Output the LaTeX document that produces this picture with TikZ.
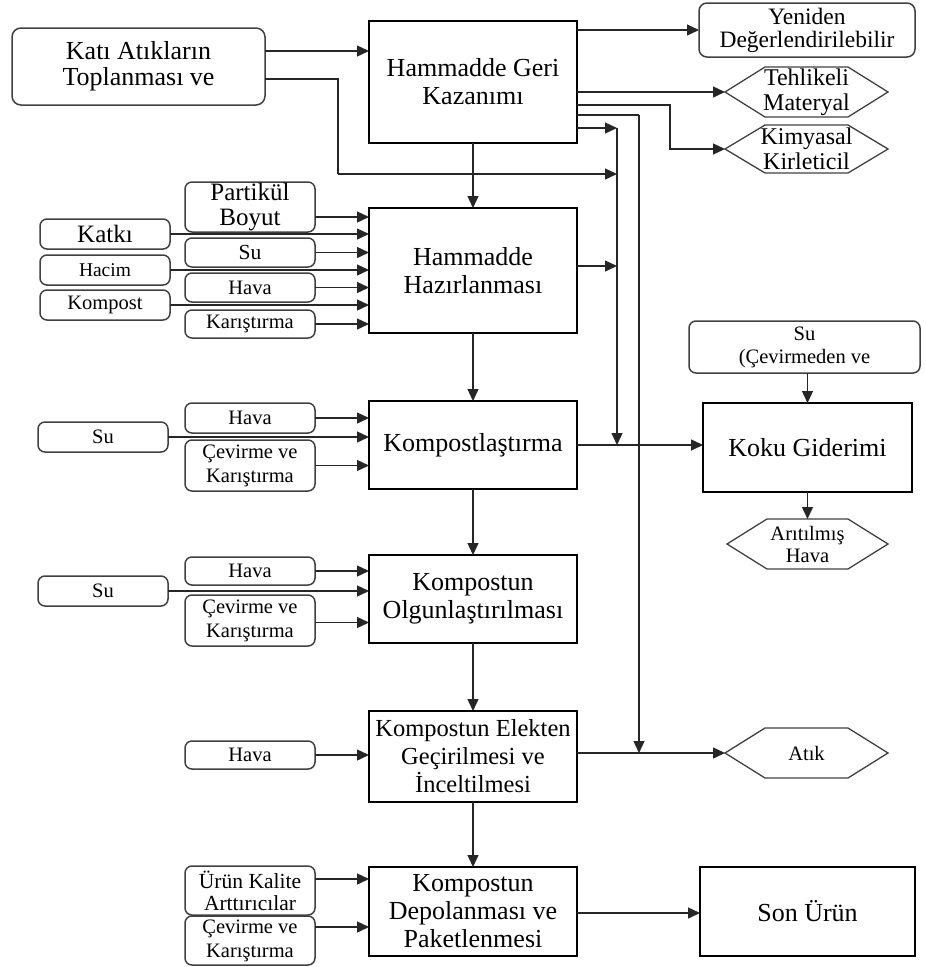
\documentclass[tikz,border=0pt]{standalone}
\usepackage{fontspec}
\setmainfont{Liberation Serif}
\usetikzlibrary{arrows.meta}
\newcommand{\fsz}[2]{\fontsize{#1}{#2}\selectfont}
\newcommand{\hexo}[1]{\draw[hexl] (#1.west) -- ([xshift=40pt]#1.north west) -- ([xshift=-40pt]#1.north east) -- (#1.east) -- ([xshift=-40pt]#1.south east) -- ([xshift=40pt]#1.south west) -- cycle;}
\begin{document}
\begin{tikzpicture}[x=1pt,y=-1pt,
  mainbox/.style={draw=black, line width=1.8pt, inner sep=0pt, outer sep=0pt, align=center, font=\fsz{26}{28}},
  rbox/.style={draw=black!75, line width=1.5pt, rounded corners=7pt, inner sep=0pt, outer sep=0pt, align=center, font=\fsz{20.5}{24}},
  hexn/.style={inner sep=0pt, outer sep=0pt, align=center, font=\fsz{24}{25}},
  hexl/.style={draw=black!75, line width=1.3pt},
  arr/.style={-{Triangle[length=12pt,width=11pt]}, line width=1.4pt, draw=black!85},
  ln/.style={line width=1.4pt, draw=black!85}]
\useasboundingbox (0,0) rectangle (926,967);
% main column
\node[mainbox, minimum width=208pt, minimum height=122pt] (hgk) at (473,82) {Hammadde Geri\\Kazanımı};
\node[mainbox, minimum width=208pt, minimum height=125pt] (hh) at (473,270.5) {Hammadde\\Hazırlanması};
\node[mainbox, minimum width=208pt, minimum height=88pt] (kmp) at (473,445) {Kompostlaştırma};
\node[mainbox, minimum width=208pt, minimum height=88pt] (olg) at (473,599) {Kompostun\\Olgunlaştırılması};
\node[mainbox, font=\fsz{24.5}{28}, minimum width=208pt, minimum height=91pt] (elk) at (473,756.5) {Kompostun Elekten\\Geçirilmesi ve\\İnceltilmesi};
\node[mainbox, minimum width=208pt, minimum height=89pt] (dep) at (473,911.5) {Kompostun\\Depolanması ve\\Paketlenmesi};
\node[mainbox, minimum width=215pt, minimum height=89pt] (son) at (807.5,911.5) {Son Ürün};
\node[mainbox, minimum width=209pt, minimum height=89pt] (koku) at (807.5,447.5) {Koku Giderimi};
% top
\node[rbox, rounded corners=9pt, font=\fsz{26}{26}, minimum width=253pt, minimum height=77pt] (kati) at (138.5,66.5) {Katı Atıkların\\Toplanması ve};
\node[rbox, rounded corners=8pt, font=\fsz{23.5}{23}, minimum width=216pt, minimum height=54pt] (yen) at (807,30) {Yeniden\\Değerlendirilebilir};
\node[hexn, minimum width=163pt, minimum height=50pt] (teh) at (806.5,92) {Tehlikeli\\Materyal};
\node[hexn, minimum width=163pt, minimum height=48pt] (kim) at (806.5,149) {Kimyasal\\Kirleticil};
\hexo{teh}
\hexo{kim}
% preparation inputs
\node[rbox, font=\fsz{25}{25}, minimum width=130pt, minimum height=50pt] (par) at (250,207) {Partikül\\Boyut};
\node[rbox, font=\fsz{25}{24}, minimum width=130pt, minimum height=30pt] (katki) at (105,234) {Katkı};
\node[rbox, font=\fsz{21.5}{24}, minimum width=130pt, minimum height=29pt] (su1) at (250,252.5) {Su};
\node[rbox, font=\fsz{19.5}{24}, minimum width=130pt, minimum height=30pt] (hacim) at (105,270) {Hacim};
\node[rbox, minimum width=130pt, minimum height=29pt] (hava1) at (250,287.5) {Hava};
\node[rbox, minimum width=130pt, minimum height=30pt] (kompost) at (105,305) {Kompost};
\node[rbox, minimum width=130pt, minimum height=28pt] (kar1) at (250,324) {Karıştırma};
% composting inputs
\node[rbox, minimum width=130pt, minimum height=30pt] (hava2) at (250,418) {Hava};
\node[rbox, minimum width=130pt, minimum height=30pt] (su2) at (103,437) {Su};
\node[rbox, minimum width=130pt, minimum height=51pt] (cev2) at (250,465.5) {Çevirme ve\\Karıştırma};
% maturation inputs
\node[rbox, minimum width=130pt, minimum height=28pt] (hava3) at (250,571) {Hava};
\node[rbox, minimum width=130pt, minimum height=30pt] (su3) at (103,591) {Su};
\node[rbox, minimum width=130pt, minimum height=51pt] (cev3) at (250,620.5) {Çevirme ve\\Karıştırma};
% screening input
\node[rbox, minimum width=130pt, minimum height=28pt] (hava4) at (250,755) {Hava};
% storage inputs
\node[rbox, font=\fsz{21.5}{22}, minimum width=130pt, minimum height=49pt] (urun) at (250,890.5) {Ürün Kalite\\Arttırıcılar};
\node[rbox, minimum width=130pt, minimum height=49pt] (cev4) at (250,940.5) {Çevirme ve\\Karıştırma};
% right side
\node[rbox, font=\fsz{20.5}{23}, minimum width=231pt, minimum height=52pt] (suk) at (804.5,347) {Su\\(Çevirmeden ve};
\node[hexn, font=\fsz{20.5}{22}, minimum width=161pt, minimum height=50pt] (ari) at (807.5,544) {Arıtılmış\\Hava};
\node[hexn, font=\fsz{20.5}{22}, minimum width=163pt, minimum height=50pt] (atik) at (806.5,753) {Atık};
\hexo{ari}
\hexo{atik}
% junction coordinates
\coordinate (jk) at (617,174);
\coordinate (v1t) at (617,128);
\coordinate (v1b) at (617,445);
\coordinate (v2t) at (639,115);
\coordinate (v2b) at (639,753);
\coordinate (jh) at (617,266);
\coordinate (bk) at (338,174);
\coordinate (bkm) at (670,149);
% top connectors
\draw[arr] ([yshift=15.5pt]kati.east) -- ([yshift=15.5pt]kati.east -| hgk.west);
\draw[ln] ([yshift=-12.5pt]kati.east) -| (bk);
\draw[arr] (bk) -- (jk);
\draw[arr] (hgk.east |- yen) -- (yen.west);
\draw[arr] (hgk.east |- teh) -- (teh.west);
\draw[arr] (hgk.east |- 0,105) -| (bkm) -- (kim.west);
\draw[ln] (hgk.east |- v2t) -- (v2t);
\draw[arr] (v2t) -- (v2b);
\draw[arr] (hgk.east |- v1t) -- (v1t);
\draw[arr] (v1t) -- (v1b);
\draw[arr] (hh.east |- jh) -- (jh);
% main column
\draw[arr] (hgk.south) -- (hh.north);
\draw[arr] (hh.south) -- (kmp.north);
\draw[arr] (kmp.south) -- (olg.north);
\draw[arr] (olg.south) -- (elk.north);
\draw[arr] (elk.south) -- (dep.north);
\draw[arr] (kmp.east) -- (kmp.east -| koku.west);
\draw[arr] (elk.east |- atik) -- (atik.west);
\draw[arr] ([yshift=-1.5pt]dep.east) -- ([yshift=-1.5pt]son.west);
\draw[arr] (koku.north |- suk.south) -- (koku.north);
\draw[arr] (koku.south) -- (ari.north);
% preparation inputs
\draw[arr] ([yshift=-10pt]par.east) -- ([yshift=-10pt]par.east -| hh.west);
\draw[arr] (katki.east) -- (katki.east -| hh.west);
\draw[arr] (su1.east) -- (su1.east -| hh.west);
\draw[arr] (hacim.east) -- (hacim.east -| hh.west);
\draw[arr] (hava1.east) -- (hava1.east -| hh.west);
\draw[arr] (kompost.east) -- (kompost.east -| hh.west);
\draw[arr] (kar1.east) -- (kar1.east -| hh.west);
% composting inputs
\draw[arr] (hava2.east) -- (hava2.east -| kmp.west);
\draw[arr] (su2.east) -- (su2.east -| kmp.west);
\draw[arr] (cev2.east) -- (cev2.east -| kmp.west);
% maturation inputs
\draw[arr] (hava3.east) -- (hava3.east -| olg.west);
\draw[arr] (su3.east) -- (su3.east -| olg.west);
\draw[arr] ([yshift=-2pt]cev3.east) -- ([yshift=-2pt]cev3.east -| olg.west);
% screening
\draw[arr] (hava4.east) -- (hava4.east -| elk.west);
% storage
\draw[arr] ([yshift=11.5pt]urun.east) -- ([yshift=11.5pt]urun.east -| dep.west);
\draw[arr] ([yshift=13.5pt]cev4.east) -- ([yshift=13.5pt]cev4.east -| dep.west);
\end{tikzpicture}
\end{document}
